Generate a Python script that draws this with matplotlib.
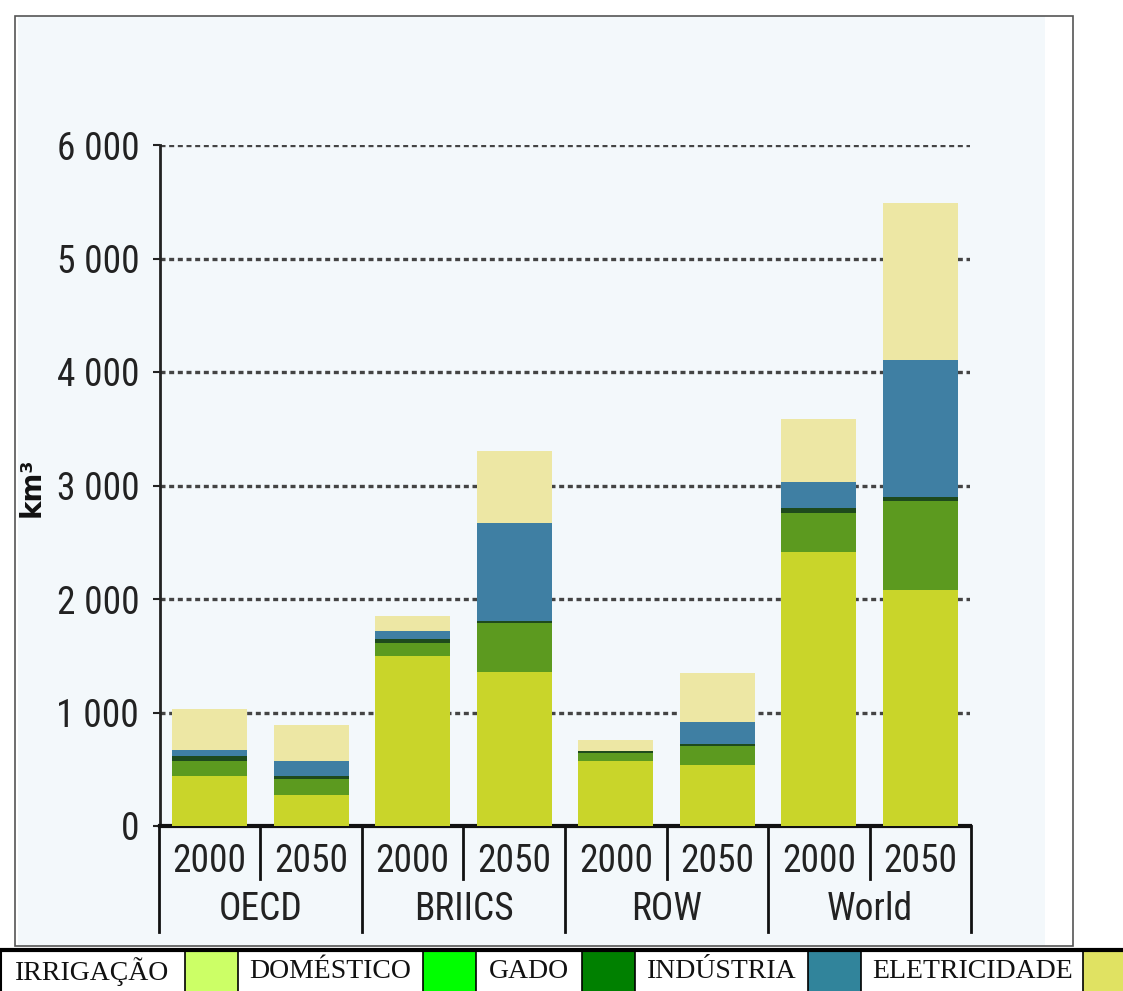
import matplotlib.pyplot as plt
from matplotlib import font_manager
from matplotlib.patches import Rectangle
from matplotlib.transforms import blended_transform_factory

# data (km3), stacked from bottom
regions = ['OECD', 'BRIICS', 'ROW', 'World']
years = ['2000', '2050']
irrigation = [440, 270, 1495, 1360, 570, 535, 2415, 2080]
domestic = [130, 140, 115, 425, 70, 170, 345, 785]
livestock = [45, 30, 40, 25, 20, 20, 40, 35]
industry = [55, 130, 70, 860, 5, 195, 230, 1205]
electricity = [360, 320, 130, 630, 95, 430, 560, 1385]
yticks = [0, 1000, 2000, 3000, 4000, 5000, 6000]
yticklabels = ['0', '1 000', '2 000', '3 000', '4 000', '5 000', '6 000']

series = [irrigation, domestic, livestock, industry, electricity]
bar_colors = ['#c9d52a', '#5c9a1f', '#1e4a1c', '#3f7fa3', '#ede7a4']

legend_names = ['IRRIGAÇÃO', 'DOMÉSTICO', 'GADO', 'INDÚSTRIA', 'ELETRICIDADE']
legend_colors = ['#ccff66', '#00ff00', '#008000', '#31849b', '#e0e262']

W, H = 1123, 991
def fx(x):
    return x / W
def fy(y):
    return 1 - y / H

# pick a narrow sans if one is installed
names = set(f.name for f in font_manager.fontManager.ttflist)
cond = 'DejaVu Sans'
cond_size = 22
for cand in ['Liberation Sans Narrow', 'DejaVu Sans Condensed', 'Roboto Condensed',
             'Open Sans Condensed', 'Noto Sans Condensed']:
    if cand in names:
        cond = cand
        cond_size = 27
        break

fig = plt.figure(figsize=(W / 100, H / 100), dpi=100)
fig.patch.set_facecolor('white')

# outer frame and light background
fig.patches.append(Rectangle((fx(18), fy(946)), fx(1045) - fx(18), fy(16) - fy(946),
                             transform=fig.transFigure, facecolor='#f3f8fb', edgecolor='none', zorder=-5))
fig.patches.append(Rectangle((fx(15), fy(946)), fx(1073) - fx(15), fy(16) - fy(946),
                             transform=fig.transFigure, facecolor='none', edgecolor='#555555',
                             linewidth=1.2, zorder=5))

ax = fig.add_axes([fx(160), fy(826), fx(970) - fx(160), fy(145) - fy(826)])
ax.set_facecolor('none')

x = list(range(len(irrigation)))
bottom = [0] * len(x)
for vals, c in zip(series, bar_colors):
    ax.bar(x, vals, width=0.74, bottom=bottom, color=c, linewidth=0, zorder=3)
    bottom = [b + v for b, v in zip(bottom, vals)]

ax.set_xlim(-0.49, 7.49)
ax.set_ylim(0, 6000)
ax.set_yticks(yticks)
ax.set_yticklabels(yticklabels, family=cond, fontsize=cond_size, color='#222222')
ax.tick_params(axis='y', length=5, width=1.5, pad=10, color='#222222')
ax.set_xticks([])
ax.set_axisbelow(True)
ax.yaxis.grid(True, linestyle=(0, (1.5, 1.1)), linewidth=2.4, color='#444444')
for s in ['top', 'right']:
    ax.spines[s].set_visible(False)
ax.spines['left'].set_linewidth(2)
ax.spines['bottom'].set_linewidth(3)
ax.spines['left'].set_color('#222222')
ax.spines['bottom'].set_color('#111111')

fig.text(fx(32), fy(487), 'km³', rotation=90, ha='center', va='center',
         fontsize=20, fontweight='bold', color='#111111')

# category axis: years and regions with separators
tr = blended_transform_factory(ax.transData, ax.transAxes)
for i in x:
    ax.text(i, -0.052, years[i % 2], transform=tr, ha='center', va='center',
            family=cond, fontsize=cond_size, color='#222222')
for j, r in enumerate(regions):
    ax.text(2 * j + 0.5, -0.122, r, transform=tr, ha='center', va='center',
            family=cond, fontsize=cond_size, color='#222222')
for k in range(len(x) + 1):
    xb = k - 0.5
    depth = -0.155 if k % 2 == 0 else -0.078
    ax.plot([xb, xb], [0, depth], transform=tr, color='#111111', linewidth=2, clip_on=False)

# legend table at the bottom
lax = fig.add_axes([0, 0, 1, fy(949)])
lax.set_xlim(0, W)
lax.set_ylim(991, 949)
lax.axis('off')
cells = [(0, 185), (238, 423), (475, 582), (635, 808), (862, 1083)]
for (a, b), name, c in zip(cells, legend_names, legend_colors):
    lax.text((a + b) / 2, 972, name, ha='center', va='center', family='Liberation Serif',
             fontsize=20, color='#111111')
    cw = 53 if b < 1083 else 60
    lax.add_patch(Rectangle((b, 951), cw, 45, facecolor=c, edgecolor='none'))
    lax.plot([b, b], [950, 995], color='black', linewidth=1.2, clip_on=False)
    lax.plot([b + 53, b + 53], [950, 995], color='black', linewidth=1.2, clip_on=False)
lax.plot([1, 1], [950, 995], color='black', linewidth=1.5, clip_on=False)
lax.plot([0, W], [950, 950], color='black', linewidth=3, clip_on=False)

fig.savefig('out.png', dpi=100)
